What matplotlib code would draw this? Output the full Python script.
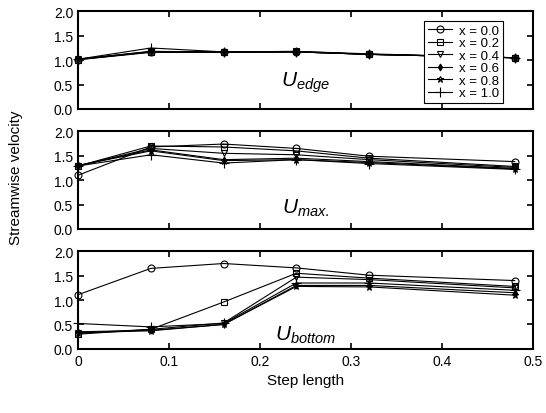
import numpy as np
import matplotlib
matplotlib.use("Agg")
import matplotlib.pyplot as plt

plt.rcParams['font.family'] = ['Liberation Sans', 'DejaVu Sans']
plt.rcParams['mathtext.fontset'] = 'custom'
plt.rcParams['mathtext.it'] = 'Liberation Sans:italic'
plt.rcParams['mathtext.rm'] = 'Liberation Sans'

step = [0.0, 0.08, 0.16, 0.24, 0.32, 0.48]
labels = ['x = 0.0', 'x = 0.2', 'x = 0.4', 'x = 0.6', 'x = 0.8', 'x = 1.0']

u_edge = [
    [1.01, 1.16, 1.16, 1.17, 1.12, 1.05],
    [1.01, 1.17, 1.17, 1.18, 1.12, 1.05],
    [1.02, 1.17, 1.17, 1.17, 1.12, 1.05],
    [1.02, 1.18, 1.16, 1.17, 1.12, 1.05],
    [1.02, 1.18, 1.17, 1.18, 1.13, 1.05],
    [1.02, 1.25, 1.17, 1.17, 1.12, 1.05],
]
u_max = [
    [1.10, 1.68, 1.74, 1.65, 1.49, 1.38],
    [1.29, 1.70, 1.68, 1.60, 1.45, 1.28],
    [1.29, 1.65, 1.55, 1.52, 1.42, 1.26],
    [1.30, 1.62, 1.42, 1.45, 1.38, 1.24],
    [1.30, 1.60, 1.40, 1.42, 1.36, 1.23],
    [1.29, 1.52, 1.35, 1.42, 1.34, 1.22],
]
u_bottom = [
    [1.11, 1.65, 1.75, 1.66, 1.51, 1.40],
    [0.30, 0.40, 0.96, 1.55, 1.45, 1.28],
    [0.32, 0.40, 0.53, 1.47, 1.42, 1.25],
    [0.35, 0.38, 0.50, 1.30, 1.30, 1.15],
    [0.33, 0.37, 0.50, 1.28, 1.27, 1.10],
    [0.52, 0.45, 0.52, 1.35, 1.35, 1.20],
]
panel_names = [r'$U_{edge}$', r'$U_{max.}$', r'$U_{bottom}$']
name_pos = [(0.25, 0.55), (0.25, 0.45), (0.25, 0.3)]

markers = ['o', 's', 'v', 'd', '*', '+']
fills = ['none', 'none', 'none', 'k', 'none', 'none']
sizes = [5, 5, 5, 3.5, 5, 7]

fig, axes = plt.subplots(3, 1, figsize=(5.46, 4.14), dpi=100, sharex=True)
fig.subplots_adjust(left=0.143, right=0.976, top=0.97, bottom=0.155, hspace=0.23)

for ax, data, name, pos in zip(axes, [u_edge, u_max, u_bottom], panel_names, name_pos):
    for i in range(6):
        ax.plot(step, data[i], color='k', lw=0.8, marker=markers[i],
                mfc=fills[i], mec='k', ms=sizes[i], mew=0.8, label=labels[i],
                clip_on=False)
    ax.set_xlim(0, 0.5)
    ax.set_ylim(0, 2.0)
    ax.set_yticks([0, 0.5, 1.0, 1.5, 2.0])
    ax.set_xticks([0, 0.1, 0.2, 0.3, 0.4, 0.5])
    ax.tick_params(direction='in', top=True, right=True, labelsize=10, length=4, width=1.2)
    for s in ax.spines.values():
        s.set_linewidth(1.5)
    ax.text(pos[0], pos[1], name, fontsize=15, ha='center', va='center')

axes[2].set_xticklabels(['0', '0.1', '0.2', '0.3', '0.4', '0.5'])
axes[2].set_xlabel('Step length', fontsize=11)
fig.text(0.03, 0.57, 'Streamwise velocity', rotation=90, va='center', ha='center', fontsize=11)

leg = axes[0].legend(loc='upper right', bbox_to_anchor=(0.934, 0.9), borderaxespad=0,
                     fontsize=9.5, frameon=True, fancybox=False, edgecolor='k',
                     handlelength=1.8, borderpad=0.25, labelspacing=0.02,
                     handletextpad=0.6, framealpha=1)
leg.get_frame().set_linewidth(0.8)
leg.set_zorder(5)

fig.savefig('out.png', dpi=100)
